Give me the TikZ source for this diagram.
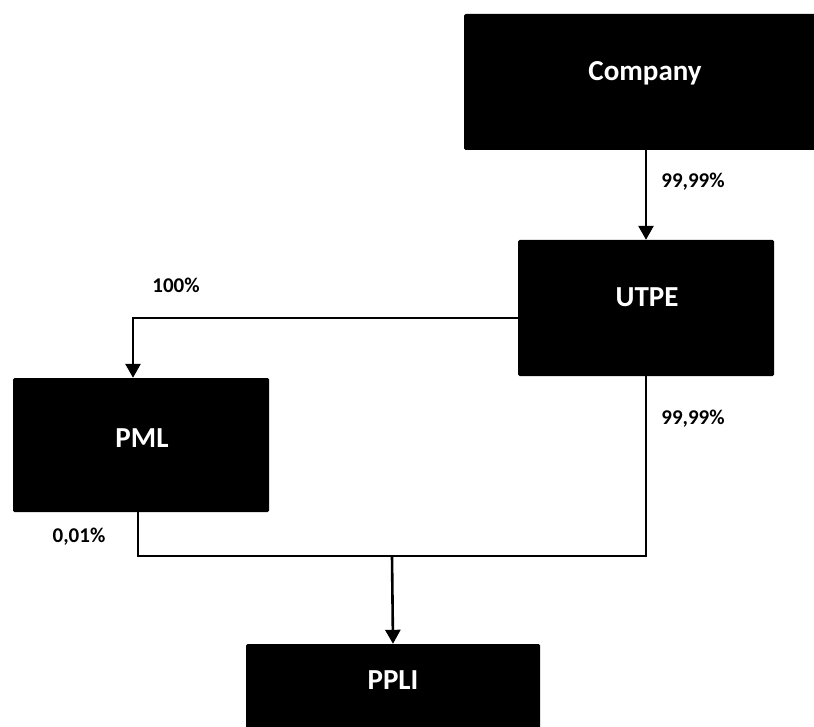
\documentclass[tikz,border=0pt]{standalone}
\usepackage{fontspec}
\setmainfont{Carlito}
\usetikzlibrary{arrows.meta}
\begin{document}
\begin{tikzpicture}[x=1pt,y=-1pt,
  box/.style={draw=none,fill=black,rounded corners=1.5pt,inner sep=0pt},
  boxtext/.style={text=white,font=\fontsize{29}{33}\selectfont\bfseries},
  pct/.style={text=black,font=\fontsize{21}{24}\selectfont\bfseries},
  conn/.style={line width=2.6pt},
  arr/.style={conn,-{Triangle[width=15pt,length=14pt]}}]
\useasboundingbox (0,0) rectangle (814,727);
\clip (0,0) rectangle (814,727);
% boxes
\node[box,minimum width=362pt,minimum height=136pt] (company) at (645,82) {};
\node[box,minimum width=256pt,minimum height=136pt] (utpe) at (646,308) {};
\node[box,minimum width=256pt,minimum height=134pt] (pml) at (141,445) {};
\node[box,minimum width=294pt,minimum height=110pt] (ppli) at (393,699) {};
% box texts
\node[boxtext] (companyt) at (645,73) {Company};
\node[boxtext] (utpet) at (647,297) {UTPE};
\node[boxtext] (pmlt) at (142,438) {PML};
\node[boxtext] (pplit) at (393,680) {PPLI};
% connectors
\coordinate (j) at (392,556);
\draw[arr] (company.south -| utpe.north) -- (utpe.north);
\draw[arr] ([yshift=-10pt]utpe.west) -| ([xshift=-8pt]pml.north);
\draw[conn] ([xshift=-3pt]pml.south) |- (j);
\draw[conn] (utpe.south) |- (j);
\draw[arr] (j) -- (ppli.north);
% labels
\node[pct] (l1) at (693,182) {99,99\%};
\node[pct] (l2) at (176,285) {100\%};
\node[pct] (l3) at (693,419) {99,99\%};
\node[pct] (l4) at (79,537) {0,01\%};
\end{tikzpicture}
\end{document}
